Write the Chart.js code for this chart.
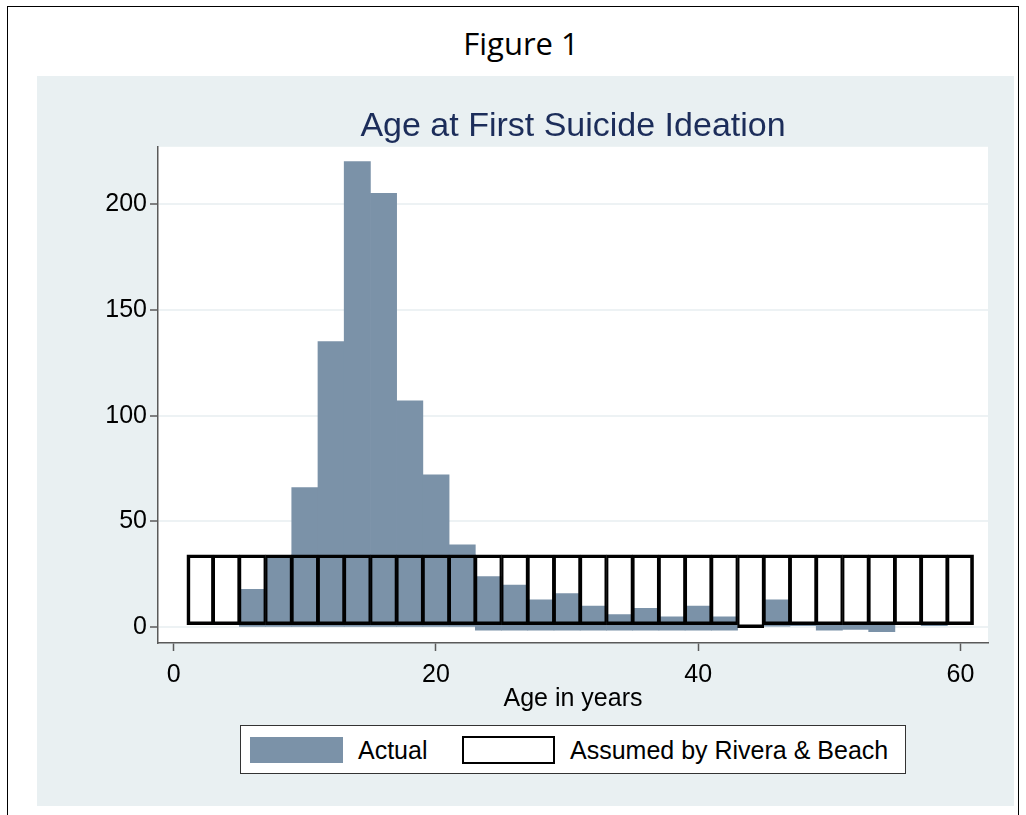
<!DOCTYPE html>
<html>
<head>
<meta charset="utf-8">
<script src="https://cdn.jsdelivr.net/npm/chart.js@4.4.1/dist/chart.umd.min.js"></script>
<style>
  html, body { margin: 0; padding: 0; background: #fff; width: 1026px; height: 815px; overflow: hidden; }
  #frame { position: absolute; left: 7px; top: 6px; width: 1010px; height: 830px; border: 1.5px solid #000; border-bottom: none; }
  #fig { position: absolute; left: 0; top: 22px; width: 1042px; text-align: center; font-family: "Open Sans"; font-size: 31px; color: #000; }
  #panel { position: absolute; left: 37px; top: 76px; width: 977px; height: 730px; background: #e9f0f2; }
  #wrap { position: absolute; left: 37px; top: 76px; width: 977px; height: 730px; }
  #legend { position: absolute; left: 240px; top: 725px; width: 664px; height: 47px; background: #fff; border: 1px solid #333; font-family: "Liberation Sans"; font-size: 25px; color: #000; }
  #legend .sw { position: absolute; }
  #legend .lb { position: absolute; top: 11px; line-height: 26px; white-space: nowrap; }
</style>
</head>
<body>
<div id="frame"></div>
<div id="fig">Figure 1</div>
<div id="panel"></div>
<div id="wrap"><canvas id="chart" width="977" height="730"></canvas></div>
<div id="legend">
  <div class="sw" style="left:9px; top:11px; width:93px; height:26px; background:#7b92a8;"></div>
  <div class="lb" style="left:117px;">Actual</div>
  <div class="sw" style="left:221px; top:10px; width:89px; height:24px; background:#fff; border:2px solid #000;"></div>
  <div class="lb" style="left:329px;">Assumed by Rivera &amp; Beach</div>
</div>
<script>
// two-year bins, centres
const binCenters = [2, 4, 6, 8, 10, 12, 14, 16, 18, 20, 22, 24, 26, 28, 30,
                    32, 34, 36, 38, 40, 42, 44, 46, 48, 50, 52, 54, 56, 58, 60];

// actual frequencies (bar bottom / top, as drawn)
const actualLow  = [null, null, 0, 0, 0, 0, 0, 0, 0, 0, 0, -1.3, -1.3, -1.3, -1.3,
                    -1.3, -1.3, -1.3, -1.3, -1.3, -1.3, null, 0.5, 0.8, -1.3, -1, -2.1, null, 0.8, null];
const actualHigh = [null, null, 18, 33, 66, 135, 220, 205, 107, 72, 39, 24, 20, 13, 16,
                    10, 6, 9, 5, 10, 5, null, 13, 2.2, 1.6, 1.6, 1.6, null, 2.2, null];

// assumed uniform distribution
const assumedLow  = [1.2, 1.2, 1.2, 1.2, 1.2, 1.2, 1.2, 1.2, 1.2, 1.2, 1.2, 1.2, 1.2, 1.2, 1.2,
                     1.2, 1.2, 1.2, 1.2, 1.2, 1.2, -0.2, 1.2, 1.2, 1.2, 1.2, 1.2, 1.2, 1.2, 1.2];
const assumedHigh = [34.3, 34.3, 34.3, 34.3, 34.3, 34.3, 34.3, 34.3, 34.3, 34.3, 34.3, 34.3, 34.3, 34.3, 34.3,
                     34.3, 34.3, 34.3, 34.3, 34.3, 34.3, 34.3, 34.3, 34.3, 34.3, 34.3, 34.3, 34.3, 34.3, 34.3];

const xTicks = [0, 20, 40, 60];
const yTicks = [0, 50, 100, 150, 200];

const actualData = binCenters
  .map((x, i) => actualHigh[i] == null ? null : { x: x, y: [actualLow[i], actualHigh[i]] })
  .filter(p => p !== null);

const assumedData = binCenters.map((x, i) => ({ x: x, y: [assumedLow[i], assumedHigh[i]] }));

const font = { family: "Liberation Sans", size: 25 };
const axisGray = '#5a5a5a';

// white plot region, rest of the canvas shows the panel colour
const plotBg = {
  id: 'plotBg',
  beforeDraw(chart) {
    const { ctx, chartArea: a } = chart;
    ctx.save();
    ctx.fillStyle = '#fff';
    ctx.fillRect(a.left, a.top, a.right - a.left, a.bottom - a.top);
    ctx.restore();
  }
};

// centre the title over the plot region, not the whole canvas
const titleOverPlot = {
  id: 'titleOverPlot',
  afterLayout(chart) {
    const t = chart.titleBlock;
    if (!t) return;
    t.left = chart.chartArea.left;
    t.right = chart.chartArea.right;
    t.width = t.right - t.left;
  }
};

const last = binCenters.length - 1;

new Chart(document.getElementById('chart'), {
  type: 'bar',
  data: {
    datasets: [
      {
        label: 'Assumed by Rivera & Beach',
        data: assumedData,
        order: 0,
        backgroundColor: 'rgba(0,0,0,0)',
        borderColor: '#000',
        borderSkipped: false,
        borderWidth: ctx => ({
          top: 3,
          bottom: 3,
          left: ctx.dataIndex === 0 ? 3 : 1.6,
          right: ctx.dataIndex === last ? 3 : 1.6
        }),
      },
      {
        label: 'Actual',
        data: actualData,
        order: 1,
        backgroundColor: '#7b92a8',
        borderWidth: 0,
      },
    ],
  },
  options: {
    responsive: false,
    animation: false,
    datasets: {
      bar: { grouped: false, barPercentage: 1, categoryPercentage: 1 }
    },
    layout: { padding: { left: 0, right: 26, top: 0, bottom: 0 } },
    scales: {
      x: {
        type: 'linear',
        min: -1.2,
        max: 62.1,
        offset: false,
        afterBuildTicks: s => { s.ticks = xTicks.map(v => ({ value: v })); },
        afterFit: s => { s.height = 163; },
        grid: { offset: false, drawOnChartArea: false, tickLength: 8, tickColor: axisGray, tickWidth: 1.5 },
        border: { color: axisGray, width: 1.5 },
        ticks: { font: font, color: '#000', padding: 9, maxRotation: 0 },
        title: { display: true, text: 'Age in years', font: font, color: '#000', padding: { top: 0, bottom: 92 } },
      },
      y: {
        min: -7.4,
        max: 227,
        afterBuildTicks: s => { s.ticks = yTicks.map(v => ({ value: v })); },
        afterFit: s => { s.width = 121; },
        grid: { color: '#edf2f4', lineWidth: 2, tickLength: 8, tickColor: axisGray, tickWidth: 1.5 },
        border: { color: axisGray, width: 1.5 },
        ticks: { font: font, color: '#000', padding: 3 },
      },
    },
    plugins: {
      legend: { display: false },
      tooltip: { enabled: false },
      title: {
        display: true,
        text: 'Age at First Suicide Ideation',
        color: '#1c2d5a',
        font: { family: "Liberation Sans", size: 34, weight: 'normal' },
        padding: { top: 30, bottom: 0 },
      },
    },
  },
  plugins: [plotBg, titleOverPlot],
});
</script>
</body>
</html>
